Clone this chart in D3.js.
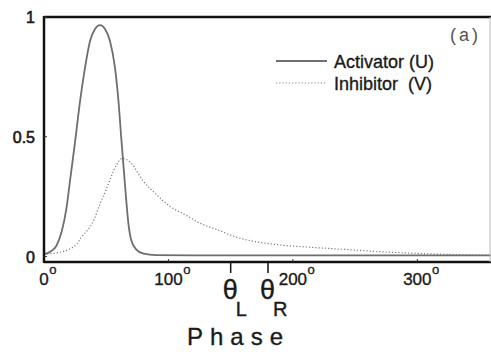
<!DOCTYPE html>
<html><head><meta charset="utf-8">
<script src="https://cdn.jsdelivr.net/npm/d3@7/dist/d3.min.js"></script>
<style>body{margin:0;background:#fff}svg{display:block}text{font-family:"Liberation Sans",Arial,sans-serif;fill:#1a1a1a;stroke:#1a1a1a;stroke-width:0.35px}</style>
</head><body><svg id="c" width="491" height="352"></svg>
<script>
// data
const activatorPhase = [0,5,10,14,18,21,25,29,33,37,41,45,49,53,57,60,62,64,66,68,70,74,80,90,120,200,300,360];
const activatorValue = [0.01,0.02,0.045,0.1,0.2,0.32,0.48,0.65,0.79,0.9,0.95,0.966,0.95,0.9,0.79,0.64,0.5,0.37,0.24,0.13,0.07,0.03,0.012,0.006,0.005,0.005,0.005,0.005];
const inhibitorPhase = [0,10,20,26,30,35,39,45,50,53,58,63,70,79,90,101,115,125,140,155,170,190,210,240,270,300,330,360];
const inhibitorValue = [0.01,0.015,0.03,0.05,0.08,0.11,0.14,0.22,0.28,0.32,0.38,0.41,0.39,0.32,0.26,0.21,0.17,0.14,0.11,0.08,0.062,0.048,0.04,0.03,0.02,0.013,0.008,0.005];
const xTicks = [0,100,200,300];
const yTicks = [0,0.5,1];
const yTickLabels = ["0","0.5","1"];
const thetaTicks = [150,180];
const thetaLabels = ["L","R"];
const seriesNames = ["Activator (U)","Inhibitor  (V)"];

const svg = d3.select("#c");
const L=44, R=490, T=17, B=262;
const x = d3.scaleLinear().domain([0,360]).range([44,492]);
const y = d3.scaleLinear().domain([-0.023,1]).range([B,T]);

const line = d3.line().x(d=>x(d[0])).y(d=>y(d[1])).curve(d3.curveMonotoneX);
const aData = activatorPhase.map((p,i)=>[p,activatorValue[i]]);
const iData = inhibitorPhase.map((p,i)=>[p,inhibitorValue[i]]);

svg.append("path").attr("d",line(iData)).attr("fill","none").attr("stroke","#7a7a7a").attr("stroke-width",1.2).attr("stroke-dasharray","1.2,2");
svg.append("path").attr("d",line(aData)).attr("fill","none").attr("stroke","#6e6e6e").attr("stroke-width",1.8);

// frame
svg.append("line").attr("x1",L).attr("x2",491).attr("y1",T).attr("y2",T).attr("stroke","#111").attr("stroke-width",2.5);
svg.append("line").attr("x1",L).attr("x2",491).attr("y1",B).attr("y2",B).attr("stroke","#111").attr("stroke-width",2.5);
svg.append("line").attr("x1",L).attr("x2",L).attr("y1",T-1).attr("y2",B+1).attr("stroke","#111").attr("stroke-width",2.5);
svg.append("line").attr("x1",R).attr("x2",R).attr("y1",T).attr("y2",B).attr("stroke","#bbb").attr("stroke-width",1);

// x ticks
xTicks.forEach(t=>{
  if(t>0) svg.append("line").attr("x1",x(t)).attr("x2",x(t)).attr("y1",B).attr("y2",B-3).attr("stroke","#333").attr("stroke-width",1);
  const n = svg.append("text").attr("x",x(t)).attr("y",285).attr("text-anchor","middle").attr("font-size",17).text(t);
  const w = n.node().getComputedTextLength();
  svg.append("text").attr("x",x(t)+w/2+0.5).attr("y",274).attr("font-size",13).text("o");
});
// theta ticks
thetaTicks.forEach((t,i)=>{
  svg.append("line").attr("x1",x(t)).attr("x2",x(t)).attr("y1",B).attr("y2",B+11).attr("stroke","#111").attr("stroke-width",1.5);
  svg.append("text").attr("x",x(t)-8).attr("y",299).attr("font-size",27).text("θ");
  svg.append("text").attr("x",x(t)+5).attr("y",316).attr("font-size",20).text(thetaLabels[i]);
});
// y ticks
yTicks.forEach((t,i)=>{
  svg.append("line").attr("x1",L).attr("x2",L+3).attr("y1",y(t)).attr("y2",y(t)).attr("stroke","#333");
  svg.append("text").attr("x",35).attr("y",y(t)+0.5).attr("dy","0.36em").attr("text-anchor","end").attr("font-size",16).style("stroke-width","0.6px").text(yTickLabels[i]);
});
// axis title
svg.append("text").attr("x",187).attr("y",345).attr("font-size",24).attr("letter-spacing",7).text("Phase");

// legend
svg.append("line").attr("x1",276).attr("x2",327).attr("y1",61).attr("y2",61).attr("stroke","#6e6e6e").attr("stroke-width",1.8);
svg.append("line").attr("x1",276).attr("x2",327).attr("y1",83).attr("y2",83).attr("stroke","#8a8a8a").attr("stroke-width",1.2).attr("stroke-dasharray","1.2,2");
svg.append("text").attr("x",334).attr("y",68).attr("font-size",18).text(seriesNames[0]);
svg.append("text").attr("x",334).attr("y",90).attr("font-size",18).attr("xml:space","preserve").style("white-space","pre").text(seriesNames[1]);
svg.append("text").attr("x",450).attr("y",41).attr("font-size",18).attr("letter-spacing",3).style("fill","#555").style("stroke","none").text("(a)");
</script></body></html>
